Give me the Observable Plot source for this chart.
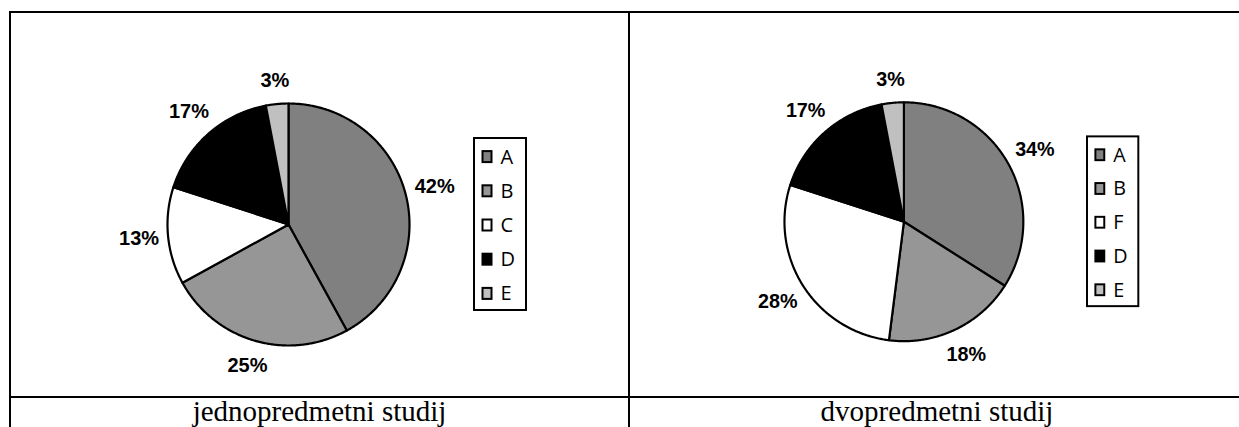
<!DOCTYPE html>
<html><head><meta charset="utf-8">
<script src="https://cdn.jsdelivr.net/npm/d3@7"></script>
<script src="https://cdn.jsdelivr.net/npm/@observablehq/plot@0.6"></script>
<style>
html,body{margin:0;padding:0;background:#fff;overflow:hidden;width:1239px;height:427px;position:relative;}
.cell{position:absolute;box-sizing:border-box;border:2px solid #000;}
.cap{position:absolute;font-family:"Liberation Serif","Times New Roman",serif;font-size:29px;line-height:29px;text-align:center;color:#000;white-space:nowrap;}
.plot{position:absolute;top:13px;}
</style></head><body>
<div class="cell" style="left:9px;top:11px;width:621px;height:387px"></div>
<div class="cell" style="left:628px;top:11px;width:620px;height:387px"></div>
<div class="cell" style="left:9px;top:396px;width:621px;height:60px"></div>
<div class="cell" style="left:628px;top:396px;width:620px;height:60px"></div>
<div class="cap" id="cap0" style="left:9px;width:621px;top:397px"></div>
<div class="cap" id="cap1" style="left:628px;width:618px;top:397px"></div>
<div class="plot" id="plot0" style="left:11px"></div>
<div class="plot" id="plot1" style="left:630px"></div>
<script>
// ---- data ----
const categories1 = ["A", "B", "C", "D", "E"];
const values1 = [42, 25, 13, 17, 3];
const categories2 = ["A", "B", "F", "D", "E"];
const values2 = [34, 18, 28, 17, 3];
const titles = ["jednopredmetni studij", "dvopredmetni studij"];
const colorDomain = ["A", "B", "C", "D", "E", "F"];
const colorRange = ["#808080", "#969696", "#ffffff", "#000000", "#c0c0c0", "#ffffff"];

// ---- layout (pixels, relative to pie centre) ----
const W = 617, H = 383, CX = 277, CY = 211, R = 121;

function build(categories, values) {
  const total = d3.sum(values);
  const pts = [], labels = [];
  let acc = 0;
  categories.forEach((key, i) => {
    const a0 = acc / total * 2 * Math.PI;
    acc += values[i];
    const a1 = acc / total * 2 * Math.PI;
    pts.push({key, x: 0, y: 0});
    const n = Math.max(2, Math.ceil((a1 - a0) / (Math.PI / 360)));
    for (let j = 0; j <= n; j++) {
      const a = a0 + (a1 - a0) * j / n;
      pts.push({key, x: R * Math.sin(a), y: -R * Math.cos(a)});
    }
    pts.push({key, x: 0, y: 0});
    const m = (a0 + a1) / 2, ux = Math.sin(m), uy = -Math.cos(m);
    const rr = 136 + Math.abs(ux) * 13.5 + Math.abs(uy) * 7.5;
    labels.push({key, text: values[i] + "%", x: rr * ux, y: rr * uy});
  });
  const legend = categories.map((key, i) => ({key, y: (i - 2) * 34.2 + 1}));
  return {pts, labels, legend};
}

function chart(categories, values) {
  const {pts, labels, legend} = build(categories, values);
  return Plot.plot({
    width: W, height: H, margin: 0,
    style: {background: "none", overflow: "visible"},
    x: {domain: [-CX, W - CX], axis: null},
    y: {domain: [H - CY, -CY], axis: null},
    color: {domain: colorDomain, range: colorRange},
    marks: [
      Plot.line(pts, {x: "x", y: "y", z: "key", fill: "key", stroke: "black", strokeWidth: 2.2, strokeLinejoin: "round"}),
      Plot.text(labels, {x: "x", y: "y", text: "text", fontFamily: "Liberation Sans, Arial, sans-serif", fontWeight: "bold", fontSize: 20, fill: "black"}),
      Plot.rect([{}], {x1: () => 186, x2: () => 238, y1: () => -86, y2: () => 86, fill: "white", stroke: "black", strokeWidth: 2}),
      Plot.rect(legend, {x1: () => 194.5, x2: () => 203.5, y1: d => d.y - 5.5, y2: d => d.y + 5.5, fill: "key", stroke: "black", strokeWidth: 2}),
      Plot.text(legend, {x: () => 212, y: "y", text: "key", textAnchor: "start", fontFamily: "Open Sans, DejaVu Sans, sans-serif", fontSize: 20, fill: "black"})
    ]
  });
}

document.getElementById("plot0").append(chart(categories1, values1));
document.getElementById("plot1").append(chart(categories2, values2));
document.getElementById("cap0").textContent = titles[0];
document.getElementById("cap1").textContent = titles[1];
</script>
</body></html>
